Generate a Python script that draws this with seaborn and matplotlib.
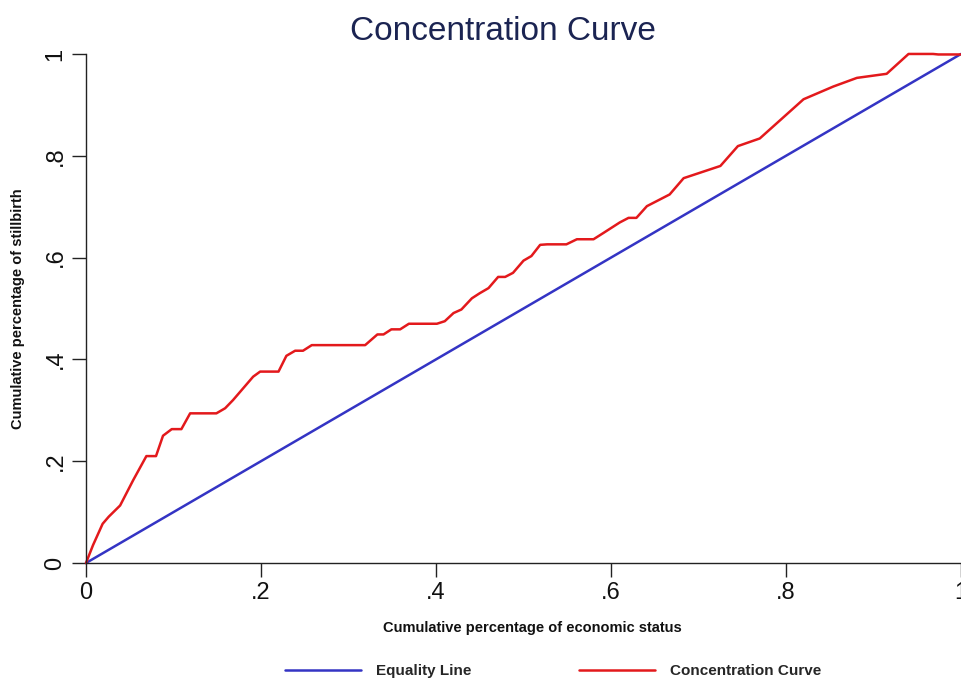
import matplotlib
matplotlib.use("Agg")
import matplotlib.pyplot as plt
import seaborn as sns
import pandas as pd
from matplotlib.lines import Line2D

sns.set_theme(style="white")
plt.rcParams['font.family'] = ['Liberation Sans', 'DejaVu Sans']

# Equality line
eq_x = [0.0, 1.0]
eq_y = [0.0, 1.0]

# Concentration curve
cc_x = [0.0, 0.008, 0.019, 0.026, 0.039, 0.054, 0.069, 0.080, 0.088, 0.098,
        0.109, 0.119, 0.149, 0.159, 0.168, 0.191, 0.199, 0.220, 0.229, 0.239,
        0.248, 0.258, 0.319, 0.327, 0.333, 0.340, 0.349, 0.359, 0.369, 0.401,
        0.410, 0.420, 0.429, 0.441, 0.450, 0.460, 0.471, 0.479, 0.488, 0.500,
        0.509, 0.519, 0.527, 0.549, 0.561, 0.580, 0.591, 0.610, 0.620, 0.629,
        0.641, 0.667, 0.683, 0.725, 0.745, 0.770, 0.820, 0.854, 0.881, 0.915,
        0.940, 0.968, 0.974, 1.0]
cc_y = [0.0, 0.035, 0.077, 0.091, 0.113, 0.163, 0.210, 0.210, 0.250, 0.263,
        0.263, 0.294, 0.294, 0.304, 0.320, 0.366, 0.376, 0.376, 0.407, 0.417,
        0.417, 0.428, 0.428, 0.440, 0.449, 0.449, 0.459, 0.459, 0.470, 0.470,
        0.475, 0.491, 0.498, 0.520, 0.530, 0.540, 0.562, 0.562, 0.570, 0.594,
        0.603, 0.625, 0.626, 0.626, 0.636, 0.636, 0.648, 0.669, 0.678, 0.678,
        0.701, 0.724, 0.756, 0.780, 0.819, 0.834, 0.911, 0.936, 0.953, 0.961,
        1.0, 1.0, 0.999, 0.999]

tick_vals = [0, 0.2, 0.4, 0.6, 0.8, 1.0]
tick_labels = ["0", ".2", ".4", ".6", ".8", "1"]

df = pd.concat([
    pd.DataFrame({"x": eq_x, "y": eq_y, "series": "Equality Line"}),
    pd.DataFrame({"x": cc_x, "y": cc_y, "series": "Concentration Curve"}),
], ignore_index=True)

fig = plt.figure(figsize=(9.62, 6.83), dpi=100)
ax = fig.add_axes([0.0894, 0.1757, 0.9096, 0.7453])

sns.lineplot(data=df, x="x", y="y", hue="series", sort=False, estimator=None,
             palette={"Equality Line": "#3434c4", "Concentration Curve": "#e3191c"},
             linewidth=1.8, ax=ax, legend=False)
for ln in ax.lines:
    ln.set_clip_on(False)

ax.set_xlim(0, 1)
ax.set_ylim(0, 1)
ax.set_xticks(tick_vals)
ax.set_xticklabels(tick_labels, fontsize=17)
ax.set_yticks(tick_vals)
ax.set_yticklabels(tick_labels, fontsize=17, rotation=90, va="center")
ax.tick_params(axis="both", direction="out", length=10, width=1, color="#222222",
               labelcolor="#111111", bottom=True, left=True, pad=4)
for s in ["top", "right"]:
    ax.spines[s].set_visible(False)
for s in ["left", "bottom"]:
    ax.spines[s].set_color("#222222")
    ax.spines[s].set_linewidth(1)

ax.set_xlabel("Cumulative percentage of economic status", fontsize=10.5,
              fontweight="bold", labelpad=12, color="#111111", x=0.51)
ax.set_ylabel("Cumulative percentage of stillbirth", fontsize=10.5,
              fontweight="bold", labelpad=14, color="#111111")
ax.set_title("Concentration Curve", fontsize=24, color="#1b2452", pad=10, x=0.477)

handles = [Line2D([], [], color="#3434c4", lw=1.8),
           Line2D([], [], color="#e3191c", lw=1.8)]
fig.legend(handles, ["Equality Line", "Concentration Curve"], loc="center",
           bbox_to_anchor=(0.575, 0.017), ncol=2, frameon=False,
           prop={"size": 11, "weight": "bold"}, handlelength=5,
           columnspacing=7, handletextpad=1.0)

fig.savefig("out.png", dpi=100)
